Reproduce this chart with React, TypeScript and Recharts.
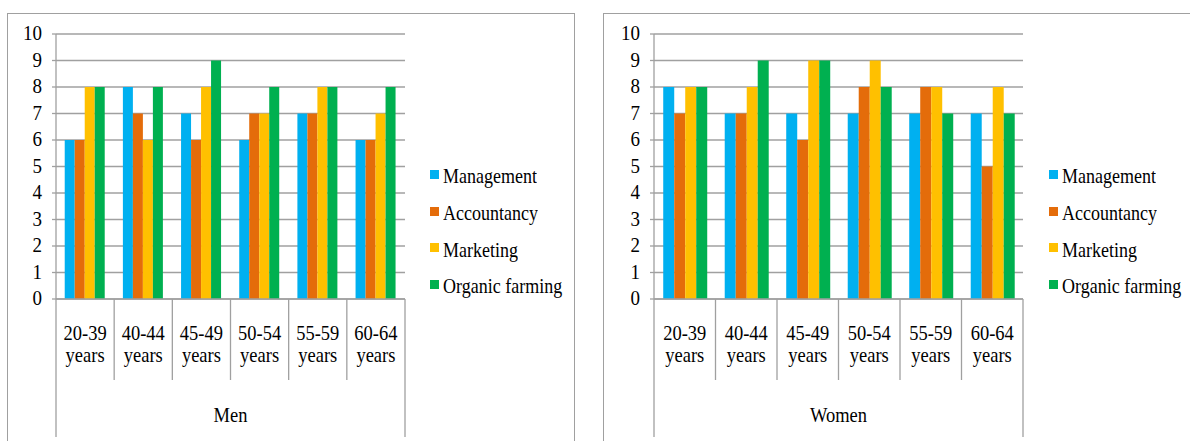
import React from 'react';
import { BarChart, Bar, XAxis, YAxis, CartesianGrid } from 'recharts';

const ageGroups = ['20-39 years', '40-44 years', '45-49 years', '50-54 years', '55-59 years', '60-64 years'];
const seriesNames = ['Management', 'Accountancy', 'Marketing', 'Organic farming'];
const seriesColors = ['#00B0F0', '#E46C0A', '#FFC000', '#00B050'];
const yTicks = [0, 1, 2, 3, 4, 5, 6, 7, 8, 9, 10];

const menManagement = [6, 8, 7, 6, 7, 6];
const menAccountancy = [6, 7, 6, 7, 7, 6];
const menMarketing = [8, 6, 8, 7, 8, 7];
const menOrganic = [8, 8, 9, 8, 8, 8];

const womenManagement = [8, 7, 7, 7, 7, 7];
const womenAccountancy = [7, 7, 6, 8, 8, 5];
const womenMarketing = [8, 8, 9, 9, 8, 8];
const womenOrganic = [8, 9, 9, 8, 7, 7];

const keys = ['management', 'accountancy', 'marketing', 'organic'];

const buildRows = (m: number[], a: number[], k: number[], o: number[]) =>
  ageGroups.map((age, i) => ({ age, management: m[i], accountancy: a[i], marketing: k[i], organic: o[i] }));

const menData = buildRows(menManagement, menAccountancy, menMarketing, menOrganic);
const womenData = buildRows(womenManagement, womenAccountancy, womenMarketing, womenOrganic);

const FONT = '"Times New Roman", Times, "Liberation Serif", Tinos, "Noto Serif", "DejaVu Serif", serif';
const STRETCH = 1.15;
const GRID = '#a0a0a0';

const YTick = ({ x, y, payload }: any) => (
  <text
    transform={`translate(${x - 10},${y + 6}) scale(1,${STRETCH})`}
    textAnchor="end"
    style={{ fontFamily: FONT }}
    fontSize={19}
    fill="#000"
  >
    {payload.value}
  </text>
);

const makeXTick = (band: number, groupLabel: string) => (props: any) => {
  const { x, y, payload, index } = props;
  const [range, unit] = payload.value.split(' ');
  const left = x - band / 2;
  const right = x + band / 2;
  const isFirst = index === 0;
  const isLast = index === ageGroups.length - 1;
  return (
    <g>
      <line x1={left} y1={y} x2={left} y2={y + (isFirst ? 138 : 81)} stroke={GRID} strokeWidth={1.3} />
      {isLast && <line x1={right} y1={y} x2={right} y2={y + 138} stroke={GRID} strokeWidth={1.3} />}
      <text transform={`translate(${x},${y + 41}) scale(1,${STRETCH})`} textAnchor="middle" style={{ fontFamily: FONT }} fontSize={18.5} fill="#000">
        {range}
      </text>
      <text transform={`translate(${x},${y + 63}) scale(1,${STRETCH})`} textAnchor="middle" style={{ fontFamily: FONT }} fontSize={18.5} fill="#000">
        {unit}
      </text>
      {isFirst && (
        <text
          transform={`translate(${left + band * 3},${y + 123}) scale(1,${STRETCH})`}
          textAnchor="middle"
          style={{ fontFamily: FONT }}
          fontSize={18.5}
          fill="#000"
        >
          {groupLabel}
        </text>
      )}
    </g>
  );
};

const Legend = ({ left }: { left: number }) => (
  <div style={{ position: 'absolute', left, top: 158, fontFamily: FONT }}>
    {seriesNames.map((name, i) => (
      <div key={name} style={{ display: 'flex', alignItems: 'center', height: 36.7 }}>
        <span style={{ width: 9, height: 9, background: seriesColors[i], marginRight: 4, marginTop: -4 }} />
        <span style={{ fontSize: 18, display: 'inline-block', transform: `scaleY(${STRETCH})`, color: '#000', lineHeight: '20px' }}>
          {name}
        </span>
      </div>
    ))}
  </div>
);

const Panel = ({ data, left, width, rightMargin, label }: any) => {
  const plotWidth = width - 56 - rightMargin;
  const band = plotWidth / ageGroups.length;
  return (
    <div style={{ position: 'absolute', left, top: 0 }}>
      <BarChart
        width={width}
        height={441}
        data={data}
        margin={{ top: 34, right: rightMargin, left: 6, bottom: 4 }}
        barCategoryGap="15%"
        barGap={0}
      >
        <CartesianGrid vertical={false} stroke={GRID} strokeWidth={1.3} />
        <XAxis
          dataKey="age"
          height={138}
          interval={0}
          axisLine={{ stroke: GRID, strokeWidth: 1.3 }}
          tickLine={false}
          tickSize={0}
          tickMargin={0}
          tick={makeXTick(band, label)}
        />
        <YAxis
          width={50}
          domain={[0, 10]}
          ticks={yTicks}
          interval={0}
          axisLine={{ stroke: GRID, strokeWidth: 1.3 }}
          tickLine={{ stroke: GRID, strokeWidth: 1.3 }}
          tickSize={4}
          tickMargin={0}
          tick={<YTick />}
        />
        {keys.map((k, i) => (
          <Bar key={k} dataKey={k} name={seriesNames[i]} fill={seriesColors[i]} isAnimationActive={false} />
        ))}
      </BarChart>
    </div>
  );
};

export default function App() {
  return (
    <div style={{ position: 'absolute', left: 0, top: 0, width: 1190, height: 441, overflow: 'hidden', background: '#fff' }}>
      <div style={{ position: 'absolute', left: 7, top: 13, width: 566, height: 460, border: `1px solid ${GRID}` }} />
      <div style={{ position: 'absolute', left: 603, top: 13, width: 600, height: 460, border: `1px solid ${GRID}` }} />
      <Panel data={menData} left={0} width={590} rightMargin={185} label="Men" />
      <Panel data={womenData} left={598} width={592} rightMargin={167} label="Women" />
      <Legend left={430} />
      <Legend left={1049} />
    </div>
  );
}
